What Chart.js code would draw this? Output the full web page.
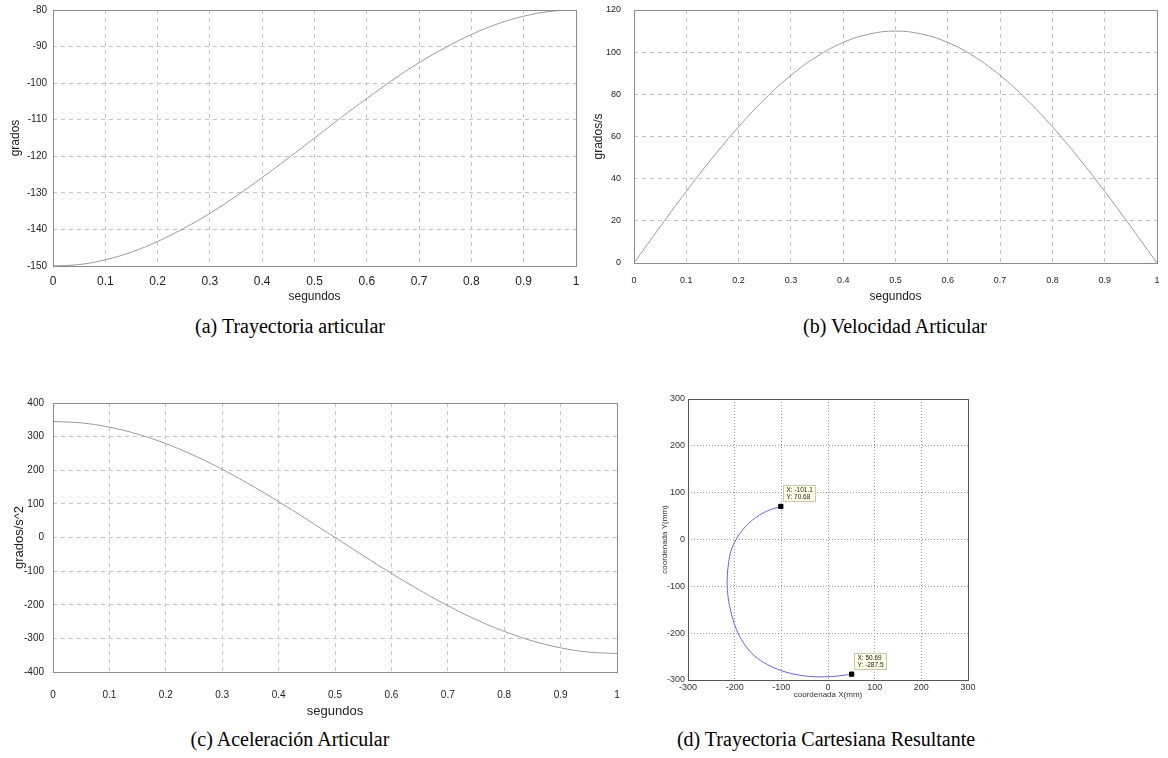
<!DOCTYPE html>
<html>
<head>
<meta charset="utf-8">
<script src="https://cdn.jsdelivr.net/npm/chart.js@4.4.1/dist/chart.umd.min.js"></script>
<style>
  html, body { margin: 0; padding: 0; background: #fff; }
  body { width: 1168px; height: 758px; position: relative; overflow: hidden; }
  canvas { position: absolute; }
  .cap { position: absolute; font-family: "Liberation Serif", "DejaVu Serif", serif; font-size: 20px; color: #000; white-space: nowrap; transform: translateX(-50%); }
</style>
</head>
<body>
<canvas id="ca" width="600" height="310" style="left:0px;top:0px"></canvas>
<canvas id="cb" width="578" height="310" style="left:590px;top:0px"></canvas>
<canvas id="cc" width="630" height="345" style="left:0px;top:380px"></canvas>
<canvas id="cd" width="340" height="330" style="left:640px;top:380px"></canvas>
<div class="cap" style="left:290px;top:315px">(a) Trayectoria articular</div>
<div class="cap" style="left:895px;top:315px">(b) Velocidad Articular</div>
<div class="cap" style="left:290px;top:728px">(c) Aceleración Articular</div>
<div class="cap" style="left:826px;top:728px">(d) Trayectoria Cartesiana Resultante</div>
<script>
// ---- data ----
const tiempo = [0, 0.05, 0.1, 0.15, 0.2, 0.25, 0.3, 0.35, 0.4, 0.45, 0.5, 0.55, 0.6, 0.65, 0.7, 0.75, 0.8, 0.85, 0.9, 0.95, 1];
const posicion = [-150, -149.6, -148.3, -146.2, -143.3, -139.7, -135.6, -130.9, -125.8, -120.5, -115, -109.5, -104.2, -99.1, -94.4, -90.3, -86.7, -83.8, -81.7, -80.4, -80];
const velocidad = [0, 17.2, 34.0, 49.9, 64.6, 77.8, 89.0, 98.0, 104.6, 108.6, 110, 108.6, 104.6, 98.0, 89.0, 77.8, 64.6, 49.9, 34.0, 17.2, 0];
const aceleracion = [345, 340.8, 328.1, 307.4, 279.1, 243.9, 202.8, 156.6, 106.6, 54.0, 0, -54.0, -106.6, -156.6, -202.8, -243.9, -279.1, -307.4, -328.1, -340.8, -345];
const coordX = [-101.1, -125, -147, -167, -184, -197, -207, -213, -216, -215, -209, -197, -180, -158, -130, -100, -65, -30, 0, 25, 50.69];
const coordY = [70.68, 63, 52, 37, 19, 0, -22, -50, -85, -115, -150, -190, -222, -248, -267, -280, -289, -293, -293, -291, -287.5];
const datatipX = [-101.1, 50.69];
const datatipY = [70.68, -287.5];
const datatipText = [["X: -101.1", "Y: 70.68"], ["X: 50.69", "Y: -287.5"]];
const timeTicks = [0, 0.1, 0.2, 0.3, 0.4, 0.5, 0.6, 0.7, 0.8, 0.9, 1];
const timeTickLabels = ["0", "0.1", "0.2", "0.3", "0.4", "0.5", "0.6", "0.7", "0.8", "0.9", "1"];

const pts = (xs, ys) => xs.map((x, i) => ({x: x, y: ys[i]}));
const fmtTime = (v) => { const i = timeTicks.findIndex(t => Math.abs(t - v) < 1e-6); return i >= 0 ? timeTickLabels[i] : ""; };

const boxPlugin = {
  id: 'box',
  afterDraw(chart, args, opts) {
    const a = chart.chartArea, ctx = chart.ctx;
    ctx.save();
    ctx.strokeStyle = opts.color || '#808080';
    ctx.lineWidth = 1;
    ctx.strokeRect(Math.round(a.left) + 0.5, Math.round(a.top) + 0.5, Math.round(a.right - a.left), Math.round(a.bottom - a.top));
    ctx.restore();
  }
};

function fixW(w) { return (s) => { s.width = w; }; }
function fixH(h) { return (s) => { s.height = h; }; }
const CLEAR = 'rgba(0,0,0,0)';

function lineChart(id, ys, opt) {
  return new Chart(document.getElementById(id), {
    type: 'scatter',
    data: { datasets: [{ data: pts(tiempo, ys), showLine: true, borderColor: '#9a9a9a', borderWidth: 1, pointRadius: 0, tension: 0.4, fill: false }] },
    options: {
      responsive: false, animation: false, maintainAspectRatio: false,
      layout: { padding: opt.pad },
      plugins: { legend: { display: false }, tooltip: { enabled: false }, box: { color: '#8c8c8c' } },
      scales: {
        x: {
          type: 'linear', min: 0, max: 1,
          afterFit: fixH(opt.xh),
          afterBuildTicks: (s) => { s.ticks = timeTicks.map(v => ({value: v})); },
          ticks: { callback: fmtTime, padding: 0, maxRotation: 0, autoSkip: false, color: '#222', font: opt.xtfont },
          grid: { color: '#c4c4c4', drawTicks: true, tickLength: opt.xtpad, tickColor: CLEAR, lineWidth: 1 },
          border: { display: false, dash: [4, 4] },
          title: { display: true, text: 'segundos', color: '#222', font: { family: 'Liberation Sans', size: opt.titleSize }, padding: { top: 0, bottom: opt.xtitlePad } }
        },
        y: {
          min: opt.ymin, max: opt.ymax,
          afterFit: fixW(opt.yw),
          ticks: { stepSize: opt.ystep, padding: 0, color: '#222', font: { family: 'Liberation Sans', size: opt.ytsize } },
          grid: { color: '#c4c4c4', drawTicks: true, tickLength: opt.ytpad, tickColor: CLEAR, lineWidth: 1 },
          border: { display: false, dash: [4, 4] },
          title: { display: true, text: opt.ytitle, color: '#222', font: { family: 'Liberation Sans', size: opt.titleSize }, padding: { top: opt.ytitlePad, bottom: 0 } }
        }
      }
    },
    plugins: [boxPlugin]
  });
}

lineChart('ca', posicion, {
  pad: { left: 0, top: 10, right: 24, bottom: 0 }, xh: 44, yw: 53,
  xtpad: 8, xtfont: { family: 'Liberation Sans Narrow, Liberation Sans', size: 12 },
  ymin: -150, ymax: -80, ystep: 10, ytpad: 6, ytsize: 10,
  ytitle: 'grados', titleSize: 12, xtitlePad: 6, ytitlePad: 8
});
lineChart('cb', velocidad, {
  pad: { left: 0, top: 10, right: 11, bottom: 0 }, xh: 47, yw: 44,
  xtpad: 12, xtfont: { family: 'Liberation Sans', size: 9 },
  ymin: 0, ymax: 120, ystep: 20, ytpad: 13, ytsize: 9,
  ytitle: 'grados/s', titleSize: 12, xtitlePad: 6, ytitlePad: 1
});
lineChart('cc', aceleracion, {
  pad: { left: 0, top: 23, right: 13, bottom: 0 }, xh: 53, yw: 53,
  xtpad: 17, xtfont: { family: 'Liberation Sans', size: 10 },
  ymin: -400, ymax: 400, ystep: 100, ytpad: 9, ytsize: 10,
  ytitle: 'grados/s^2', titleSize: 13, xtitlePad: 6, ytitlePad: 12
});

const tipPlugin = {
  id: 'tips',
  afterDatasetsDraw(chart) {
    const ctx = chart.ctx, xs = chart.scales.x, ys = chart.scales.y;
    ctx.save();
    ctx.font = '6.5px "Liberation Sans"';
    datatipX.forEach((vx, i) => {
      const px = xs.getPixelForValue(vx), py = ys.getPixelForValue(datatipY[i]);
      const lines = datatipText[i];
      const w = Math.round(Math.max(...lines.map(l => ctx.measureText(l).width)) + 6);
      const h = 16;
      const bx = Math.round(px + 2) + 0.5, by = Math.round(py - 5 - h) + 0.5;
      ctx.fillStyle = '#ffffe6';
      ctx.strokeStyle = '#c8c8b0';
      ctx.fillRect(bx, by, w, h);
      ctx.strokeRect(bx, by, w, h);
      ctx.fillStyle = '#222';
      ctx.textBaseline = 'middle';
      lines.forEach((l, k) => ctx.fillText(l, bx + 3, by + 5 + k * 7));
    });
    ctx.restore();
  }
};

const axisD = (title, tpad, size) => ({
  min: -300, max: 300,
  ticks: { stepSize: 100, color: '#333', font: { family: 'Liberation Sans', size: 9 }, padding: 0, maxRotation: 0 },
  grid: { color: '#9a9a9a', drawTicks: true, tickLength: tpad, tickColor: CLEAR, lineWidth: 1 },
  border: { display: false, dash: [1, 2] },
  title: { display: true, text: title, color: '#333', font: { family: 'Liberation Sans', size: size } }
});
const xD = axisD('coordenada X(mm)', 2, 8);
xD.afterFit = fixH(30);
xD.title.padding = { top: 0, bottom: 10 };
const yD = axisD('coordenada Y(mm)', 3, 8);
yD.afterFit = fixW(48);
yD.title.padding = { top: 20, bottom: 0 };

new Chart(document.getElementById('cd'), {
  type: 'scatter',
  data: { datasets: [
    { data: pts(datatipX, datatipY), showLine: false, pointStyle: 'rect', pointRadius: 3, backgroundColor: '#000', borderColor: '#000', borderWidth: 1 },
    { data: pts(coordX, coordY), showLine: true, borderColor: '#6a62d8', borderWidth: 1, pointRadius: 0, tension: 0.4, fill: false }
  ] },
  options: {
    responsive: false, animation: false, maintainAspectRatio: false,
    layout: { padding: { left: 0, top: 19, right: 12, bottom: 0 } },
    plugins: { legend: { display: false }, tooltip: { enabled: false }, box: { color: '#555' } },
    scales: { x: xD, y: yD }
  },
  plugins: [boxPlugin, tipPlugin]
});
</script>
</body>
</html>
